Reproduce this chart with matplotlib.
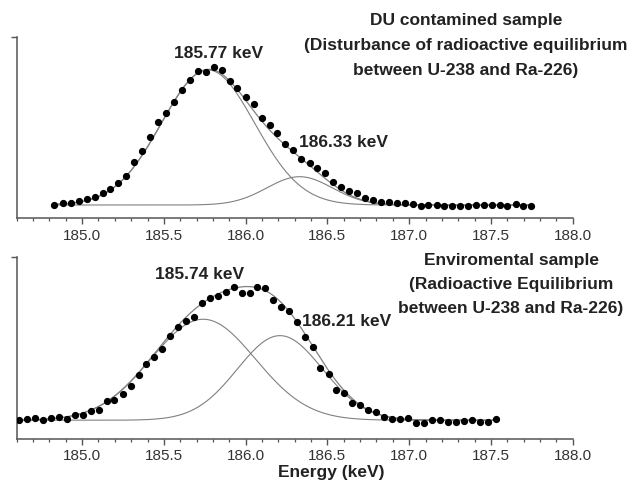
import numpy as np
import matplotlib
matplotlib.use("Agg")
import matplotlib.pyplot as plt
from matplotlib.ticker import MultipleLocator

plt.rcParams['font.family'] = ['Liberation Sans', 'DejaVu Sans']

# --- measured spectrum, DU contaminated sample (top panel) ---
top_energy = [184.831, 184.881, 184.929, 184.979, 185.028, 185.077, 185.126, 185.173,
              185.222, 185.269, 185.320, 185.368, 185.417, 185.465, 185.514, 185.561,
              185.610, 185.659, 185.708, 185.757, 185.806, 185.853, 185.902, 185.949,
              186.000, 186.049, 186.098, 186.147, 186.194, 186.243, 186.292, 186.341,
              186.392, 186.439, 186.488, 186.535, 186.586, 186.632, 186.681, 186.729,
              186.779, 186.827, 186.876, 186.923, 186.974, 187.021, 187.070, 187.116,
              187.168, 187.214, 187.263, 187.312, 187.361, 187.408, 187.457, 187.504,
              187.555, 187.600, 187.651, 187.698, 187.747]
top_counts = [7.3, 8.3, 8.3, 9.4, 10.5, 11.7, 13.8, 16.3,
              19.6, 23.5, 30.8, 37.1, 44.9, 53.0, 57.8, 63.9,
              70.5, 76.0, 81.3, 80.4, 83.1, 81.7, 75.4, 71.6,
              66.6, 63.1, 55.2, 51.2, 46.8, 41.1, 37.4, 32.7,
              30.3, 27.5, 24.8, 20.2, 17.1, 15.2, 13.8, 11.0,
              10.1, 9.1, 8.8, 8.6, 8.3, 7.9, 6.9, 7.3,
              7.2, 6.9, 6.9, 6.9, 6.8, 7.2, 7.3, 7.2,
              7.2, 6.9, 7.9, 6.9, 6.8]

# --- measured spectrum, environmental sample (bottom panel) ---
bot_energy = [184.612, 184.663, 184.710, 184.759, 184.808, 184.857, 184.906, 184.955,
              185.004, 185.053, 185.102, 185.151, 185.198, 185.247, 185.296, 185.345,
              185.392, 185.441, 185.490, 185.539, 185.588, 185.637, 185.683, 185.732,
              185.780, 185.828, 185.878, 185.928, 185.976, 186.025, 186.072, 186.121,
              186.170, 186.219, 186.268, 186.317, 186.361, 186.410, 186.456, 186.508,
              186.555, 186.602, 186.652, 186.701, 186.751, 186.800, 186.847, 186.898,
              186.943, 186.994, 187.041, 187.088, 187.139, 187.188, 187.235, 187.284,
              187.335, 187.384, 187.433, 187.480, 187.529]
bot_counts = [10.3, 10.8, 11.4, 10.3, 11.4, 11.9, 10.8, 13.0,
              13.4, 15.5, 15.7, 21.0, 21.2, 24.9, 29.1, 35.0,
              41.0, 45.2, 49.5, 56.3, 61.6, 64.6, 66.8, 74.8,
              77.4, 78.5, 80.5, 83.1, 80.3, 80.0, 83.3, 82.7,
              76.5, 72.5, 70.3, 64.4, 55.7, 50.2, 39.2, 35.6,
              26.9, 25.2, 19.9, 18.9, 16.1, 14.6, 11.9, 11.1,
              11.1, 11.5, 8.9, 8.8, 10.4, 10.4, 9.3, 9.5,
              9.7, 10.4, 9.5, 9.5, 10.8]

# --- gaussian fit parameters ---
top_centers = [185.77, 186.33]
top_amps = [74.4, 15.6]
top_sigmas = [0.285, 0.20]
top_base = 7.3

bot_centers = [185.74, 186.21]
bot_amps = [55.4, 46.4]
bot_sigmas = [0.32, 0.26]
bot_base = 10.3

top_title = ["DU contamined sample",
             "(Disturbance of radioactive equilibrium",
             "between U-238 and Ra-226)"]
bot_title = ["Enviromental sample",
             "(Radioactive Equilibrium",
             "between U-238 and Ra-226)"]

LINE_C = '#808080'
AXIS_C = '#555555'
BOLD = dict(fontsize=12.5, fontweight='bold', color='#222222')


def gauss(x, c, a, s):
    return a * np.exp(-0.5 * ((x - c) / s) ** 2)


def draw_panel(ax, energy, counts, centers, amps, sigmas, base):
    xs = np.linspace(energy[0], energy[-1], 500)
    total = np.full_like(xs, base)
    for c, a, s in zip(centers, amps, sigmas):
        comp = gauss(xs, c, a, s)
        total += comp
        ax.plot(xs, comp + base, color=LINE_C, lw=0.8, zorder=2)
    ax.plot(xs, total, color=LINE_C, lw=0.9, zorder=2)
    ax.plot(energy, counts, 'o', color='black', ms=4.2, zorder=3)

    ax.set_xlim(184.6, 188.0)
    ax.set_ylim(0, 100)
    ax.xaxis.set_major_locator(MultipleLocator(0.5))
    ax.xaxis.set_minor_locator(MultipleLocator(0.1))
    ax.xaxis.set_major_formatter(plt.FuncFormatter(
        lambda v, p: f"{v:.1f}" if v > 184.9 else ""))
    ax.set_yticks([100])
    ax.set_yticklabels([])
    for side in ['top', 'right']:
        ax.spines[side].set_visible(False)
    for side in ['left', 'bottom']:
        ax.spines[side].set_color(AXIS_C)
        ax.spines[side].set_linewidth(1.1)
    ax.tick_params(which='major', direction='out', length=4.5, width=1.0,
                   color=AXIS_C, labelsize=11, labelcolor='#333333', pad=3)
    ax.tick_params(which='minor', direction='out', length=2.5, width=0.9,
                   color=AXIS_C)
    ax.patch.set_alpha(0)


fig = plt.figure(figsize=(6.33, 4.88), dpi=100)
ax_top = fig.add_axes([0.0264, 0.5527, 0.8783, 0.3721])
ax_bot = fig.add_axes([0.0264, 0.1004, 0.8783, 0.3736])

draw_panel(ax_top, top_energy, top_counts, top_centers, top_amps, top_sigmas, top_base)
draw_panel(ax_bot, bot_energy, bot_counts, bot_centers, bot_amps, bot_sigmas, bot_base)

# peak labels
ax_top.text(185.836, 91, f"{top_centers[0]:.2f} keV", ha='center', va='center', **BOLD)
ax_top.text(186.60, 42, f"{top_centers[1]:.2f} keV", ha='center', va='center', **BOLD)
ax_bot.text(185.72, 90, f"{bot_centers[0]:.2f} keV", ha='center', va='center', **BOLD)
ax_bot.text(186.62, 64.2, f"{bot_centers[1]:.2f} keV", ha='center', va='center', **BOLD)

# sample descriptions
for i, line in enumerate(top_title):
    fig.text(466 / 633, 1 - (21 + 24.5 * i) / 488, line, ha='center', va='center', **BOLD)
for i, line in enumerate(bot_title):
    fig.text(511 / 633, 1 - (260 + 24 * i) / 488, line, ha='center', va='center', **BOLD)

fig.text(331 / 633, 1 - 473 / 488, "Energy (keV)", ha='center', va='center', **BOLD)

fig.savefig("out.png", dpi=100)
